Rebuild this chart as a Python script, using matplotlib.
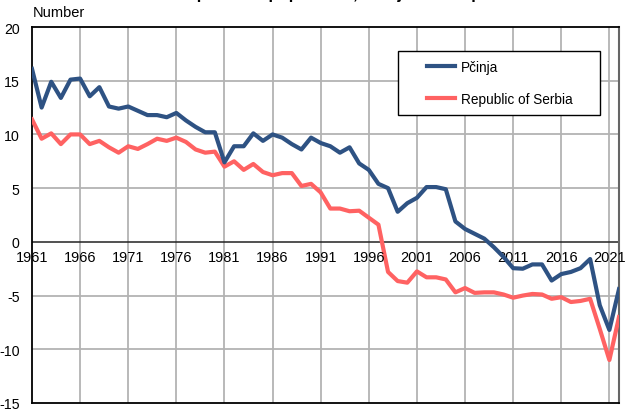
import numpy as np
import matplotlib
matplotlib.use("Agg")
import matplotlib.pyplot as plt
from matplotlib.patches import Rectangle

plt.rcParams["font.family"] = ["Liberation Sans", "DejaVu Sans"]

# Natural increase per 1000 inhabitants
years = list(range(1961, 2023))
pcinja = [16.1, 12.5, 14.9, 13.4, 15.1, 15.2, 13.55, 14.4, 12.6, 12.4,
          12.6, 12.2, 11.8, 11.8, 11.6, 12.0, 11.3, 10.7, 10.2, 10.2,
          7.4, 8.9, 8.9, 10.1, 9.4, 10.0, 9.7, 9.1, 8.6, 9.7,
          9.2, 8.9, 8.3, 8.8, 7.3, 6.7, 5.4, 5.0, 2.8, 3.6,
          4.1, 5.1, 5.1, 4.9, 1.9, 1.2, 0.75, 0.3, -0.5, -1.4,
          -2.45, -2.5, -2.1, -2.1, -3.6, -3.0, -2.8, -2.45, -1.6, -5.9,
          -8.2, -4.4]
serbia = [11.4, 9.6, 10.1, 9.1, 10.0, 10.0, 9.1, 9.4, 8.8, 8.3,
          8.9, 8.65, 9.1, 9.6, 9.4, 9.7, 9.3, 8.6, 8.3, 8.4,
          7.0, 7.5, 6.7, 7.25, 6.5, 6.2, 6.4, 6.4, 5.2, 5.4,
          4.6, 3.1, 3.1, 2.85, 2.9, 2.25, 1.6, -2.8, -3.65, -3.8,
          -2.75, -3.3, -3.3, -3.5, -4.7, -4.3, -4.75, -4.7, -4.7, -4.9,
          -5.2, -5.0, -4.85, -4.9, -5.3, -5.15, -5.6, -5.5, -5.3, -8.1,
          -11.0, -7.0]
year_ticks = [1961, 1966, 1971, 1976, 1981, 1986, 1991, 1996, 2001, 2006, 2011, 2016, 2021]
y_ticks = [-15, -10, -5, 0, 5, 10, 15, 20]

W, H = 633, 410
fig = plt.figure(figsize=(W / 100, H / 100), dpi=100)
ax = fig.add_axes([32 / W, 1 - 404 / H, (619 - 32) / W, (404 - 28) / H])

ax.set_xlim(1961, 2022)
ax.set_ylim(-15, 20)

# grid
for yv in y_ticks:
    if yv not in (0, -15, 20):
        ax.axhline(yv, color="#b3b3b3", lw=1.3, zorder=1)
for xv in year_ticks[1:]:
    ax.axvline(xv, color="#b3b3b3", lw=1.3, zorder=1)
ax.axhline(0, color="#222222", lw=1.1, zorder=2)

ax.plot(years, pcinja, color="#2E5283", lw=3, label="Pčinja", zorder=4,
        solid_joinstyle="round")
ax.plot(years, serbia, color="#FF6262", lw=3, label="Republic of Serbia", zorder=3,
        solid_joinstyle="round")

for side in ("left", "top", "bottom"):
    ax.spines[side].set_color("black")
    ax.spines[side].set_linewidth(1.3)
ax.spines["right"].set_color("#666666")
ax.spines["right"].set_linewidth(1.5)

ax.set_yticks(y_ticks)
ax.set_yticklabels([str(v) for v in y_ticks], fontsize=10.2)
ax.tick_params(axis="y", length=0, pad=9)
ax.set_xticks([])

# year labels sit just under the zero line
for yr in year_ticks:
    ax.annotate(str(yr), xy=(yr, 0), xytext=(0, -6), textcoords="offset points",
                ha="center", va="top", fontsize=10.5, annotation_clip=False)

fig.text(33 / W, 1 - 13 / H, "Number", fontsize=10.5, va="center", ha="left")
fig.text(0.52, 1 + 1 / H, "Natural increase per 1000 population, Pčinja and Republic of Serbia",
         fontsize=12, fontweight="bold", ha="center", va="baseline")

# legend box
fig.patches.append(Rectangle((398 / W, 1 - 116 / H), 202 / W, 64 / H,
                             transform=fig.transFigure, facecolor="white",
                             edgecolor="black", lw=1.0, zorder=5))
leg = fig.legend(*ax.get_legend_handles_labels(), loc="center left",
                 bbox_to_anchor=(427 / W, 1 - 84 / H), frameon=False,
                 fontsize=9.8, handlelength=2.05, labelspacing=1.35,
                 borderpad=0, borderaxespad=0, handletextpad=0.45)
leg.set_zorder(6)

fig.savefig("out.png", dpi=100)
